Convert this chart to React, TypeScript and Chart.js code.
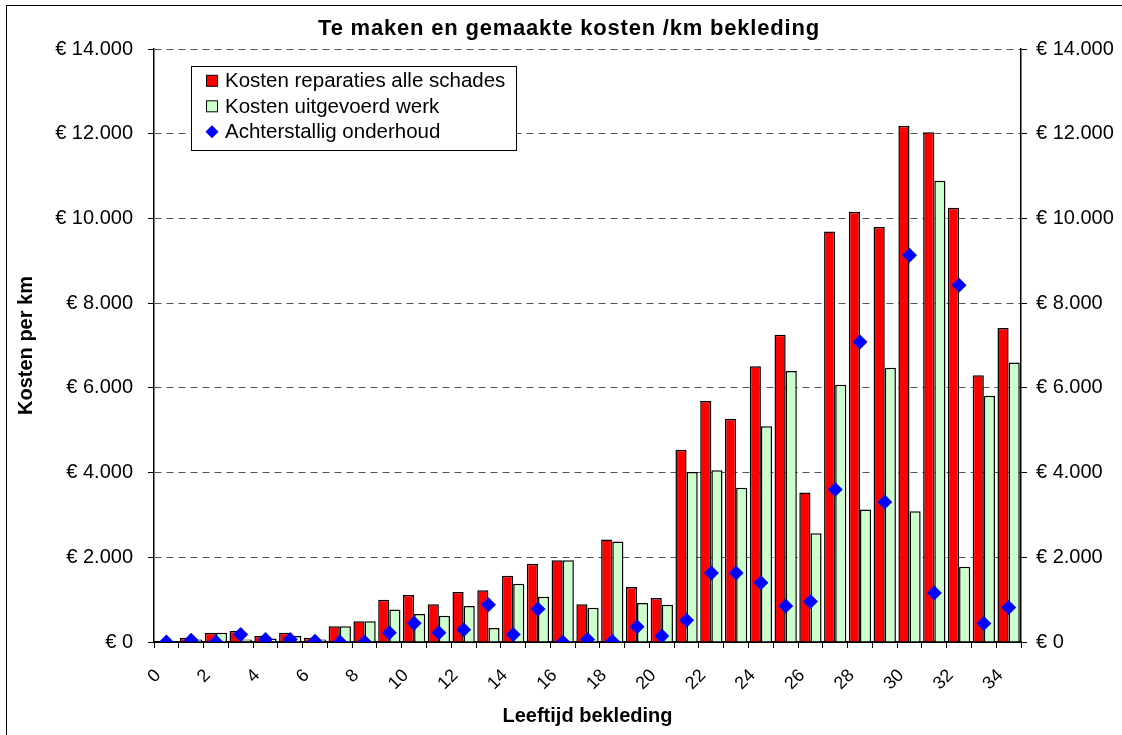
import React, { useEffect, useRef } from 'react';
import { Chart, registerables } from 'chart.js';

Chart.register(...registerables);

const titleText = 'Te maken en gemaakte kosten /km bekleding';
const xAxisTitle = 'Leeftijd bekleding';
const yAxisTitle = 'Kosten per km';
const seriesNames = ['Kosten reparaties alle schades', 'Kosten uitgevoerd werk', 'Achterstallig onderhoud'];

const ages = [0, 1, 2, 3, 4, 5, 6, 7, 8, 9, 10, 11, 12, 13, 14, 15, 16, 17, 18, 19, 20, 21, 22, 23, 24, 25, 26, 27, 28, 29, 30, 31, 32, 33, 34];
const xTickLabels = ['0', '2', '4', '6', '8', '10', '12', '14', '16', '18', '20', '22', '24', '26', '28', '30', '32', '34'];

const repairCosts = [0, 100, 220, 260, 140, 220, 100, 370, 490, 1000, 1110, 890, 1180, 1220, 1565, 1850, 1930, 890, 2420, 1298, 1039, 4540, 5690, 5272, 6508, 7255, 3530, 9692, 10159, 9795, 12187, 12037, 10253, 6299, 7411];
const executedWork = [0, 60, 220, 60, 80, 140, 60, 370, 490, 770, 660, 620, 850, 330, 1377, 1070, 1930, 810, 2370, 920, 881, 4013, 4053, 3643, 5092, 6398, 2567, 6075, 3131, 6477, 3084, 10888, 1776, 5813, 6598];
const backlog = [0, 40, 0, 180, 60, 60, 20, 0, 0, 220, 440, 220, 290, 880, 180, 780, 0, 60, 20, 362, 142, 512, 1629, 1629, 1400, 850, 957, 3598, 7084, 3308, 9131, 1159, 8421, 439, 813];

const yTickValues = [0, 2000, 4000, 6000, 8000, 10000, 12000, 14000];
const yTickLabels = ['€ 0', '€ 2.000', '€ 4.000', '€ 6.000', '€ 8.000', '€ 10.000', '€ 12.000', '€ 14.000'];

const FONT = "'Liberation Sans', Arial, Helvetica, sans-serif";
const RED = '#FF0000';
const GREEN = '#CCFFCC';
const BLUE = '#0000FF';

export default function App() {
  const ref = useRef<HTMLCanvasElement>(null);

  useEffect(() => {
    const canvas = ref.current;
    if (!canvas) return;

    const decorations = {
      id: 'decorations',
      beforeDraw(chart: any) {
        const ctx = chart.ctx;
        ctx.save();
        ctx.fillStyle = '#ffffff';
        ctx.fillRect(0, 0, chart.width, chart.height);
        ctx.restore();
      },
      afterDraw(chart: any) {
        const ctx = chart.ctx;
        ctx.save();
        // outer frame
        ctx.strokeStyle = '#000';
        ctx.lineWidth = 1;
        ctx.strokeRect(6.5, 5.5, 1140, 760);
        // title
        ctx.fillStyle = '#000';
        ctx.font = `bold 22px ${FONT}`;
        (ctx as any).letterSpacing = '0.8px';
        ctx.textAlign = 'center';
        ctx.textBaseline = 'alphabetic';
        ctx.fillText(titleText, 569, 35);
        (ctx as any).letterSpacing = '0px';
        // legend box
        const lx = 191, ly = 66, lw = 325, lh = 84;
        ctx.fillStyle = '#fff';
        ctx.fillRect(lx, ly, lw, lh);
        ctx.strokeStyle = '#000';
        ctx.lineWidth = 1;
        ctx.strokeRect(lx + 0.5, ly + 0.5, lw, lh);
        const baselines = [87.3, 112.8, 138.3];
        const ds = chart.data.datasets;
        ctx.font = `20.5px ${FONT}`;
        ctx.textAlign = 'left';
        ds.forEach((d: any, i: number) => {
          const by = baselines[i];
          const cy = by - 6.5;
          if (d.type === 'line') {
            const r = 6.5;
            ctx.beginPath();
            ctx.moveTo(212, cy - r);
            ctx.lineTo(212 + r, cy);
            ctx.lineTo(212, cy + r);
            ctx.lineTo(212 - r, cy);
            ctx.closePath();
            ctx.fillStyle = d.pointBackgroundColor;
            ctx.fill();
          } else {
            ctx.fillStyle = d.backgroundColor;
            ctx.fillRect(206.5, cy - 5.5, 11, 11);
            ctx.strokeStyle = '#000';
            ctx.lineWidth = 1;
            ctx.strokeRect(206.5, cy - 5.5, 11, 11);
          }
          ctx.fillStyle = '#000';
          ctx.fillText(d.label, 225, by);
        });
        ctx.restore();
      },
    };

    const chart = new Chart(canvas, {
      type: 'bar',
      data: {
        labels: ages.map(String),
        datasets: [
          {
            label: seriesNames[0],
            data: repairCosts,
            backgroundColor: RED,
            borderColor: '#000',
            borderWidth: 1.5,
            categoryPercentage: 0.9,
            barPercentage: 1,
            xAxisID: 'x',
            yAxisID: 'y',
            order: 1,
          },
          {
            label: seriesNames[1],
            data: executedWork,
            backgroundColor: GREEN,
            borderColor: '#000',
            borderWidth: 1.5,
            categoryPercentage: 0.9,
            barPercentage: 1,
            xAxisID: 'x',
            yAxisID: 'y',
            order: 1,
          },
          {
            type: 'line',
            label: seriesNames[2],
            data: backlog,
            showLine: false,
            pointStyle: 'rectRot',
            pointRadius: 7.5,
            pointHoverRadius: 7.5,
            pointBackgroundColor: BLUE,
            pointBorderColor: BLUE,
            pointBorderWidth: 0,
            backgroundColor: BLUE,
            borderColor: BLUE,
            xAxisID: 'x',
            yAxisID: 'y',
            order: 0,
          } as any,
        ],
      },
      options: {
        responsive: false,
        animation: false,
        devicePixelRatio: 1,
        layout: { padding: { top: 49, left: 0, right: 0, bottom: 0 } },
        plugins: {
          legend: { display: false },
          title: { display: false },
          tooltip: { enabled: false },
        },
        scales: {
          x: { type: 'category', display: false, offset: true },
          xl: {
            type: 'linear',
            position: 'bottom',
            offset: false,
            min: 0,
            max: ages.length,
            afterBuildTicks: (s: any) => {
              s.ticks = [...ages, ages.length].map((v) => ({ value: v }));
            },
            afterFit: (s: any) => {
              s.height = 93;
              s.paddingLeft = 0;
              s.paddingRight = 0;
            },
            ticks: {
              autoSkip: false,
              minRotation: 45,
              maxRotation: 45,
              padding: 17,
              labelOffset: 4,
              color: '#000',
              font: { family: FONT, size: 18 },
              callback: (_v: any, i: number) => (i % 2 === 0 && i / 2 < xTickLabels.length ? xTickLabels[i / 2] : ''),
            },
            grid: { offset: false, drawOnChartArea: false, tickLength: 6, color: '#000', lineWidth: 1 },
            border: { color: '#000', width: 2 },
            title: {
              display: true,
              text: xAxisTitle,
              color: '#000',
              font: { family: FONT, size: 20, weight: 'bold' },
              padding: { top: 0, bottom: 7 },
            },
          },
          y: {
            position: 'left',
            min: 0,
            max: 14000,
            afterBuildTicks: (s: any) => {
              s.ticks = yTickValues.map((v) => ({ value: v }));
            },
            afterFit: (s: any) => {
              s.width = 154;
            },
            ticks: {
              padding: 15,
              color: '#000',
              font: { family: FONT, size: 20 },
              callback: (_v: any, i: number) => yTickLabels[i],
            },
            grid: { color: '#555', tickColor: '#000', tickLength: 6, lineWidth: 1, tickBorderDash: [] },
            border: { color: '#000', width: 1.5, dash: [7, 5] },
            title: {
              display: true,
              text: yAxisTitle,
              color: '#000',
              font: { family: FONT, size: 20, weight: 'bold' },
              padding: { top: 14, bottom: 0 },
            },
          },
          y2: {
            position: 'right',
            min: 0,
            max: 14000,
            afterBuildTicks: (s: any) => {
              s.ticks = yTickValues.map((v) => ({ value: v }));
            },
            afterFit: (s: any) => {
              s.width = 101;
            },
            ticks: {
              padding: 9,
              color: '#000',
              font: { family: FONT, size: 20 },
              callback: (_v: any, i: number) => yTickLabels[i],
            },
            grid: { drawOnChartArea: false, color: '#000', tickColor: '#000', tickLength: 6, lineWidth: 1 },
            border: { color: '#000', width: 1.5 },
          },
        },
      } as any,
      plugins: [decorations],
    });

    return () => {
      chart.destroy();
    };
  }, []);

  return (
    <div style={{ position: 'absolute', left: 0, top: 0, width: 1122, height: 735 }}>
      <canvas ref={ref} width={1122} height={735} style={{ display: 'block', width: 1122, height: 735 }} />
    </div>
  );
}
